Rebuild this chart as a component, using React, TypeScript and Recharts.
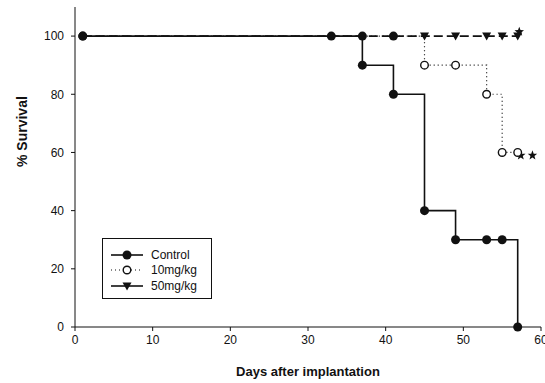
import { ComposedChart, Line, Scatter, XAxis, YAxis, ZAxis, Legend } from "recharts"

const controlDays = [1, 33, 37, 37, 41, 45, 49, 53, 55, 57]
const controlSurvival = [100, 100, 100, 90, 80, 40, 30, 30, 30, 0]
const lowDoseDays = [1, 45, 49, 53, 55, 57]
const lowDoseSurvival = [100, 90, 90, 80, 60, 60]
const highDoseDays = [1, 45, 49, 53, 55, 57]
const highDoseSurvival = [100, 100, 100, 100, 100, 100]
const extraDotDays = [41]
const extraDotSurvival = [100]
const starDays = [57.2, 57.4, 58.9]
const starSurvival = [101.5, 59, 59]
const xTicks = [0, 10, 20, 30, 40, 50, 60]
const yTicks = [0, 20, 40, 60, 80, 100]

const toRows = (days: number[], vals: number[]) => days.map((d, i) => ({ day: d, survival: vals[i] }))

const control = toRows(controlDays, controlSurvival)
const lowDose = toRows(lowDoseDays, lowDoseSurvival)
const highDose = toRows(highDoseDays, highDoseSurvival)
const extraDots = toRows(extraDotDays, extraDotSurvival)
const stars = toRows(starDays, starSurvival)

const FONT = "'Liberation Sans', Arial, sans-serif"
const INK = "#111"

const FilledDot = (props: any) => <circle key={props.index} cx={props.cx} cy={props.cy} r={4.5} fill={INK} stroke="none" />
const OpenDot = (props: any) => (
  <circle key={props.index} cx={props.cx} cy={props.cy} r={3.8} fill="#fff" stroke={INK} strokeWidth={1.4} />
)
const Triangle = (props: any) => {
  if (props.index === 0) return <g key={props.index} />
  const { cx, cy } = props
  return <path key={props.index} d={`M${cx - 4.5},${cy - 3.5}L${cx + 4.5},${cy - 3.5}L${cx},${cy + 4.5}Z`} fill={INK} />
}
const Star = (props: any) => {
  const { cx, cy } = props
  const pts: string[] = []
  for (let i = 0; i < 10; i++) {
    const r = i % 2 === 0 ? 5 : 2.1
    const a = -Math.PI / 2 + (i * Math.PI) / 5
    pts.push(`${cx + r * Math.cos(a)},${cy + r * Math.sin(a)}`)
  }
  return <polygon points={pts.join(" ")} fill={INK} />
}

function LegendBox() {
  const rows = [
    { name: "Control", dash: undefined, marker: "filled" },
    { name: "10mg/kg", dash: "1 3", marker: "open" },
    { name: "50mg/kg", dash: undefined, marker: "tri" },
  ]
  return (
    <div style={{ border: `1px solid ${INK}`, width: 110, height: 61, boxSizing: "border-box", paddingTop: 8, background: "#fff" }}>
      {rows.map((r) => (
        <div key={r.name} style={{ display: "flex", alignItems: "center", height: 15.5 }}>
          <svg width={46} height={12} style={{ marginLeft: 6 }}>
            <line x1={2} y1={6} x2={34} y2={6} stroke={INK} strokeWidth={r.dash ? 1.2 : 1.6} strokeDasharray={r.dash} />
            {r.marker === "filled" && <circle cx={18} cy={6} r={4.5} fill={INK} />}
            {r.marker === "open" && <circle cx={18} cy={6} r={3.8} fill="#fff" stroke={INK} strokeWidth={1.4} />}
            {r.marker === "tri" && <path d="M13.5,2.5L22.5,2.5L18,10.5Z" fill={INK} />}
          </svg>
          <span style={{ fontFamily: FONT, fontSize: 12, color: INK, marginLeft: -4 }}>{r.name}</span>
        </div>
      ))}
    </div>
  )
}

export default function App() {
  return (
    <div style={{ position: "absolute", left: 0, top: 0, background: "#fff" }}>
      <ComposedChart width={545} height={383} margin={{ top: 7, right: 4, left: 0, bottom: 0 }}>
        <XAxis
          type="number"
          dataKey="day"
          domain={[0, 60]}
          ticks={xTicks}
          interval={0}
          height={56}
          stroke={INK}
          tickSize={4}
          tickMargin={4}
          tick={{ fontSize: 12, fill: INK, fontFamily: FONT }}
          label={{ value: "Days after implantation", position: "insideBottom", offset: 7, fontSize: 13, fontWeight: "bold", fill: INK, fontFamily: FONT }}
        />
        <YAxis
          type="number"
          dataKey="survival"
          domain={[0, 110]}
          ticks={yTicks}
          interval={0}
          width={75}
          stroke={INK}
          tickSize={4}
          tickMargin={7}
          tick={{ fontSize: 12, fill: INK, fontFamily: FONT }}
          label={{ value: "% Survival", angle: -90, position: "insideLeft", offset: 22, fontSize: 14, fontWeight: "bold", fill: INK, fontFamily: FONT }}
        />
        <ZAxis range={[64, 64]} />
        <Line data={lowDose} dataKey="survival" type="stepAfter" stroke={INK} strokeWidth={1.2} strokeDasharray="1 3" dot={OpenDot} isAnimationActive={false} />
        <Line data={highDose} dataKey="survival" type="stepAfter" stroke={INK} strokeWidth={1.8} strokeDasharray="9 4" dot={Triangle} isAnimationActive={false} />
        <Line data={control} dataKey="survival" type="stepAfter" stroke={INK} strokeWidth={1.6} dot={FilledDot} isAnimationActive={false} />
        <Scatter data={extraDots} dataKey="survival" shape={FilledDot} isAnimationActive={false} />
        <Scatter data={stars} dataKey="survival" shape={Star} isAnimationActive={false} />
        <Legend
          layout="vertical"
          align="center"
          verticalAlign="middle"
          content={() => <LegendBox />}
          wrapperStyle={{ left: 102, top: 238, width: 110 }}
        />
      </ComposedChart>
    </div>
  )
}
